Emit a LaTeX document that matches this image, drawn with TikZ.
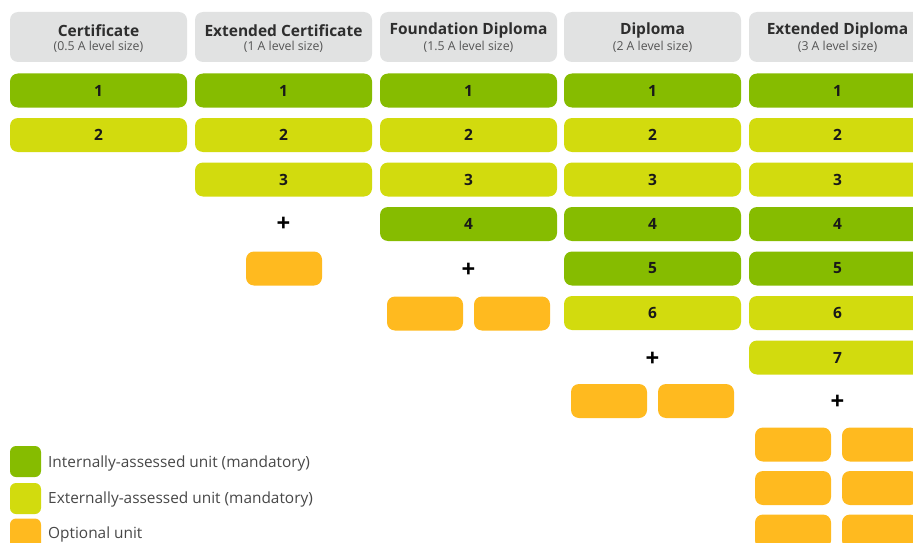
\documentclass[tikz,border=0pt]{standalone}
\usepackage{fontspec}
\setmainfont{Open Sans}
\definecolor{intgreen}{HTML}{86BC00}
\definecolor{extgreen}{HTML}{D2DB0E}
\definecolor{optorange}{HTML}{FFBA1F}
\definecolor{headgrey}{HTML}{E1E2E2}
\definecolor{subgrey}{HTML}{555555}
\tikzset{
  unitbox/.style={rounded corners=8pt, minimum width=177pt, minimum height=34pt, inner sep=0pt,
    font=\fontsize{15.5}{17}\selectfont\bfseries, text=black!90},
  intunit/.style={unitbox, fill=intgreen},
  extunit/.style={unitbox, fill=extgreen},
  optunit/.style={rounded corners=8pt, minimum width=76pt, minimum height=34pt, inner sep=0pt, fill=optorange},
  headbox/.style={rounded corners=8pt, minimum width=177pt, minimum height=50pt, inner sep=0pt, fill=headgrey},
  headtitle/.style={font=\fontsize{15.5}{17}\selectfont\bfseries, text=black!82, inner sep=0pt},
  headsub/.style={font=\fontsize{12.3}{13}\selectfont, text=subgrey, inner sep=0pt},
  plussign/.style={font=\fontsize{24}{26}\selectfont\bfseries, inner sep=0pt},
  legsq/.style={rounded corners=6pt, minimum width=31pt, minimum height=31pt, inner sep=0pt},
  legtext/.style={anchor=west, font=\fontsize{15.4}{17}\selectfont, text=black!72, inner sep=0pt}
}
\begin{document}
\begin{tikzpicture}[x=1pt,y=-1pt]
\useasboundingbox (0,0) rectangle (913,543);
% headers
\foreach \n/\x/\t/\s in {1/98.5/Certificate/0.5, 2/283.5/Extended Certificate/1, 3/468.5/Foundation Diploma/1.5, 4/652.5/Diploma/2, 5/837.5/Extended Diploma/3}{
  \node[headbox] (h\n) at (\x,37) {};
  \node[headtitle] (ht\n) at (\x,30.5) {\t};
  \node[headsub] (hs\n) at (\x,46.5) {(\s\ A level size)};
}
% unit rows: y = 90.5 + 44.5*(r-1)
\foreach \c/\x in {1/98.5,2/283.5,3/468.5,4/652.5,5/837.5}{
  \node[intunit] (u\c-1) at (\x,90.5) {1};
  \node[extunit] (u\c-2) at (\x,135) {2};
}
\foreach \c/\x in {2/283.5,3/468.5,4/652.5,5/837.5}{
  \node[extunit] (u\c-3) at (\x,179.5) {3};
}
\foreach \c/\x in {3/468.5,4/652.5,5/837.5}{
  \node[intunit] (u\c-4) at (\x,224) {4};
}
\foreach \c/\x in {4/652.5,5/837.5}{
  \node[intunit] (u\c-5) at (\x,268.5) {5};
  \node[extunit] (u\c-6) at (\x,313) {6};
}
\node[extunit] (u5-7) at (837.5,357.5) {7};
% plus signs
\node[plussign] (p2) at (283.5,224) {+};
\node[plussign] (p3) at (468.5,270.5) {+};
\node[plussign] (p4) at (652.5,359) {+};
\node[plussign] (p5) at (837.5,402) {+};
% optional units
\node[optunit] (o2-1) at (284,268.5) {};
\node[optunit] (o3-1) at (425,313.5) {};
\node[optunit] (o3-2) at (512,313.5) {};
\node[optunit] (o4-1) at (609,401) {};
\node[optunit] (o4-2) at (696,401) {};
\node[optunit] (o5-1) at (793,444.5) {};
\node[optunit] (o5-2) at (880,444.5) {};
\node[optunit] (o5-3) at (793,488) {};
\node[optunit] (o5-4) at (880,488) {};
\node[optunit] (o5-5) at (793,531.5) {};
\node[optunit] (o5-6) at (880,531.5) {};
% legend
\node[legsq, fill=intgreen] (l1) at (25.5,461.5) {};
\node[legsq, fill=extgreen] (l2) at (25.5,498.5) {};
\node[legsq, fill=optorange] (l3) at (25.5,534) {};
\node[legtext] (lt1) at (48,463) {Internally-assessed unit (mandatory)};
\node[legtext] (lt2) at (48,499) {Externally-assessed unit (mandatory)};
\node[legtext] (lt3) at (48,534.5) {Optional unit};
\end{tikzpicture}
\end{document}
